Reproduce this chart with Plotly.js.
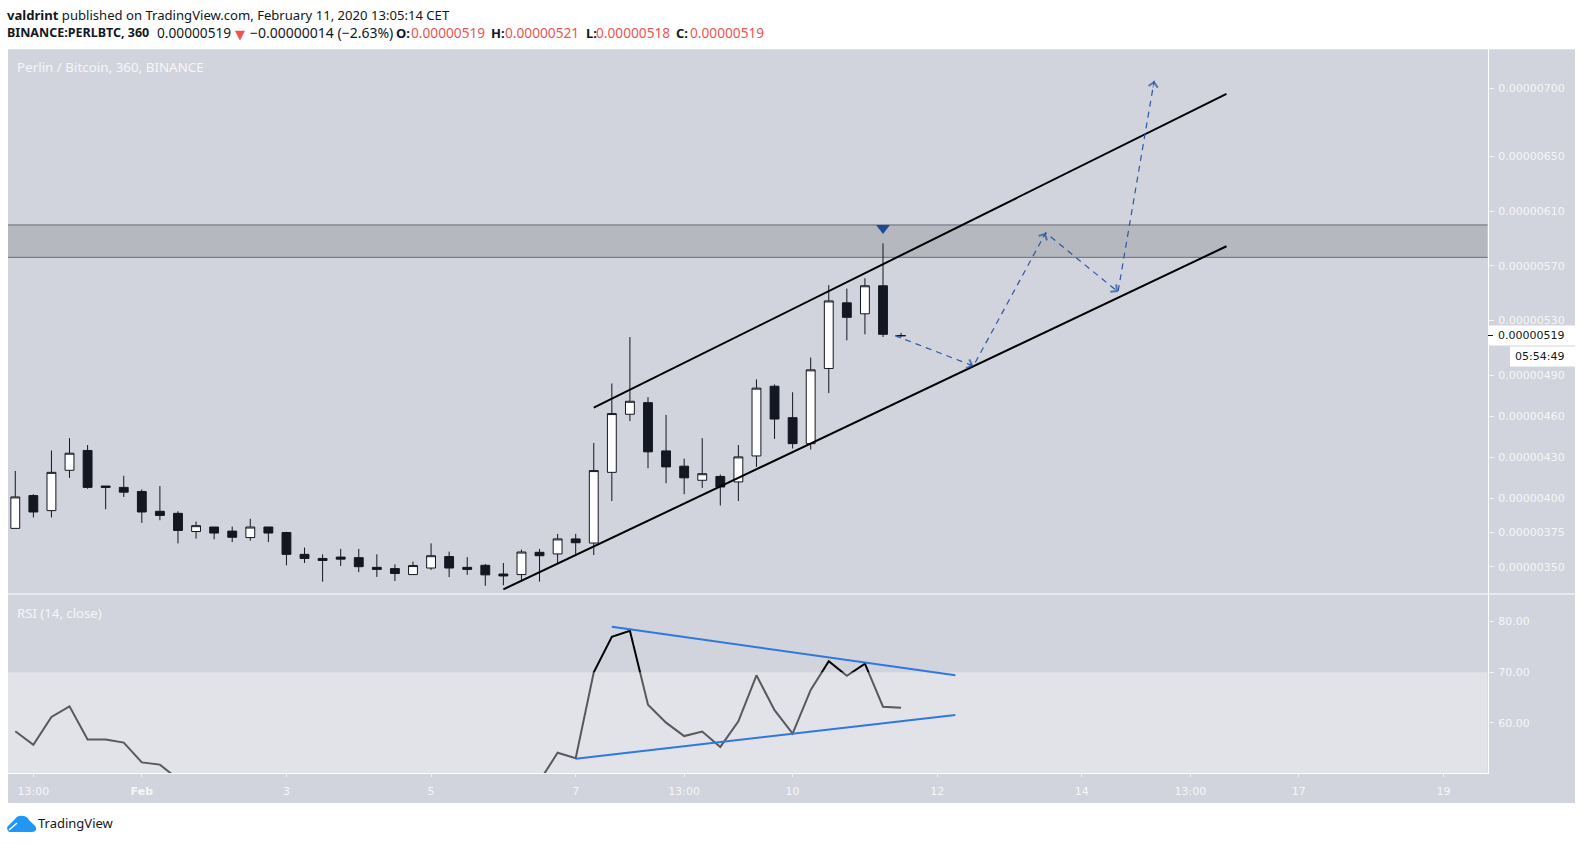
<!DOCTYPE html>
<html><head><meta charset="utf-8">
<script src="https://cdn.plot.ly/plotly-3.0.1.min.js"></script>
<style>html,body{margin:0;padding:0;background:#fff;overflow:hidden}</style>
</head><body><div id="chart" style="width:1583px;height:844px"></div>
<script>
// Values in satoshi (1e-8 BTC)
const times=["2020-01-30 07:00","2020-01-30 13:00","2020-01-30 19:00","2020-01-31 01:00","2020-01-31 07:00","2020-01-31 13:00","2020-01-31 19:00",
"2020-02-01 01:00","2020-02-01 07:00","2020-02-01 13:00","2020-02-01 19:00","2020-02-02 01:00","2020-02-02 07:00","2020-02-02 13:00","2020-02-02 19:00",
"2020-02-03 01:00","2020-02-03 07:00","2020-02-03 13:00","2020-02-03 19:00","2020-02-04 01:00","2020-02-04 07:00","2020-02-04 13:00","2020-02-04 19:00",
"2020-02-05 01:00","2020-02-05 07:00","2020-02-05 13:00","2020-02-05 19:00","2020-02-06 01:00","2020-02-06 07:00","2020-02-06 13:00","2020-02-06 19:00",
"2020-02-07 01:00","2020-02-07 07:00","2020-02-07 13:00","2020-02-07 19:00","2020-02-08 01:00","2020-02-08 07:00","2020-02-08 13:00","2020-02-08 19:00",
"2020-02-09 01:00","2020-02-09 07:00","2020-02-09 13:00","2020-02-09 19:00","2020-02-10 01:00","2020-02-10 07:00","2020-02-10 13:00","2020-02-10 19:00",
"2020-02-11 01:00","2020-02-11 07:00","2020-02-11 13:00"];
const open=[378,402,391,420.5,435,409,408,405,390.5,389,375.7,379,376,371.3,379,375,359,356,357,356.6,349.5,348.6,344.2,349,357.4,349.5,351,344.6,344.2,360.5,359.3,370.3,367.3,419,461.5,470,434.7,423.5,413.2,416,412,431,482,459,440,495,543,535,555.5,519];
const high=[420,403,435,444,439,409,416.5,406.5,409,390.5,383,379,379.3,385,379,375.5,364,359,363,363,359,351.7,353.7,367,361,357,352,352.7,362.5,363,374,374,440.5,484,518,474,461,429,444,417.4,439,487,483.3,477.6,503,556,553.4,561,586.5,521];
const low=[378,386,386,415,407,392,401,382,384,367,370.5,370,368,369,368,351,352.7,339,350.5,346,342.5,339.5,344,347.6,342.4,344,336,336.4,339,339,352,358.3,358.5,398,456.5,422,411,403,407.6,394.7,398,423,443.5,436.4,435.7,477,515.6,520,518,518];
const close=[401,390,419,433,408,408,404.5,390,387.5,376.5,380,374.6,371.5,379,374.6,359,356,354.5,355.5,350,348,345,350.8,358,349,348,344,343.2,360.7,358,370.3,367.5,420.3,462,471,434,423,415,418,408.3,430.3,480.6,458,440,494,544.4,532.4,555.5,520,519];
const rsi=[58.35,55.65,61.17,63.28,56.7,56.7,56.1,52.2,51.76,48.9,47,46,45,46,44,37,36,35,35,33,32,31,34,38,34,34,31,31,41,48.5,54.1,53,70,77,78.2,63.6,60.05,57.4,58.3,55.25,60.3,69.4,62.5,57.9,66.5,72.2,69.3,71.7,63.2,63];

const priceTicks=[350,375,400,430,460,490,530,570,610,650,700];
const priceTickText=["0.00000350","0.00000375","0.00000400","0.00000430","0.00000460","0.00000490","0.00000530","0.00000570","0.00000610","0.00000650","0.00000700"];
const rsiTicks=[60,70,80];
const rsiTickText=["60.00","70.00","80.00"];
const dateTicks=["2020-01-30 13:00","2020-02-01 01:00","2020-02-03 01:00","2020-02-05 01:00","2020-02-07 01:00","2020-02-08 13:00","2020-02-10 01:00","2020-02-12 01:00","2020-02-14 01:00","2020-02-15 13:00","2020-02-17 01:00","2020-02-19 01:00"];
const dateTickText=["13:00","<b>Feb</b>","3","5","7","13:00","10","12","14","13:00","17","19"];

const zonePrice=[576.3,600];
const channelUpperT=["2020-02-07 07:00","2020-02-16 01:00"], channelUpperP=[466.3,695.9];
const channelLowerT=["2020-02-06 01:00","2020-02-16 01:00"], channelLowerP=[333.4,584.4];
const forecastT=["2020-02-11 11:00","2020-02-12 13:00","2020-02-13 13:00","2020-02-14 13:00","2020-02-15 01:00"];
const forecastP=[519,496.8,594.3,551,705.5];
const signalT=["2020-02-11 07:00"], signalP=[597.8];
const rsiUpperT=["2020-02-07 13:00","2020-02-12 07:00"], rsiUpperV=[79,69.4];
const rsiLowerT=["2020-02-07 01:00","2020-02-12 07:00"], rsiLowerV=[52.9,61.57];

const W=1583,H=844;
const L=8,R=1488,TOP=49.3,SEP=594,BOT=773,AXB=803,RIGHT=1575;
const px=v=>v/W, py=v=>1-v/H;
const INK="#131722", PALE="#f5f6f8", BG="#d1d4dc", RED="#ef5350", DASH="#2a58a4", BLUE="#3077e0";
const FONT='"Noto Sans", sans-serif';

function rect(x0,y0,x1,y1,fill,layer){return {type:"rect",xref:"paper",yref:"paper",x0:px(x0),x1:px(x1),y0:py(y1),y1:py(y0),fillcolor:fill,line:{width:0},layer:layer||"below"};}
function hline(x0,x1,y,col,layer){return {type:"line",xref:"paper",yref:"paper",x0:px(x0),x1:px(x1),y0:py(y),y1:py(y),line:{color:col,width:1},layer:layer||"above"};}
function cloud(pts){return pts.map(s=>typeof s==="string"?s:px(s[0])+","+py(s[1])).join(" ");}

const shapes=[
 rect(L,TOP,RIGHT,AXB,BG),
 {type:"rect",xref:"paper",yref:"y",x0:px(L),x1:px(R-0.5),y0:zonePrice[0],y1:zonePrice[1],fillcolor:"#b6b8bf",line:{width:0},layer:"below"},
 {type:"line",xref:"paper",yref:"y",x0:px(L),x1:px(R-0.5),y0:zonePrice[0],y1:zonePrice[0],line:{color:"#6a6d78",width:1},layer:"below"},
 {type:"line",xref:"paper",yref:"y",x0:px(L),x1:px(R-0.5),y0:zonePrice[1],y1:zonePrice[1],line:{color:"#6a6d78",width:1},layer:"below"},
 // RSI 30-70 band sits over the RSI line, which is why the line turns grey inside it
 {type:"rect",xref:"paper",yref:"y2",x0:px(L),x1:px(R-0.5),y0:50.1,y1:70,fillcolor:"rgba(255,255,255,0.35)",line:{width:0},layer:"above"},
 {type:"line",xref:"x",yref:"y2",x0:rsiUpperT[0],x1:rsiUpperT[1],y0:rsiUpperV[0],y1:rsiUpperV[1],line:{color:BLUE,width:2},layer:"above"},
 {type:"line",xref:"x",yref:"y2",x0:rsiLowerT[0],x1:rsiLowerT[1],y0:rsiLowerV[0],y1:rsiLowerV[1],line:{color:BLUE,width:2},layer:"above"},
 hline(L,RIGHT,SEP,"#ffffff"),
 rect(R+0.5,325.5,RIGHT,345.5,"#ffffff","above"),
 rect(1510,346.5,RIGHT,366.5,"#ffffff","above"),
 hline(R,R+5,335.5,INK),
 // TradingView logo
 {type:"path",xref:"paper",yref:"paper",layer:"above",fillcolor:"#2196f3",line:{width:0},
  path:cloud(["M",[9,832],"Q",[5,828],[9,825],"L",[15,819],"Q",[18,815],[23,816],"Q",[27,816],[29,820],"L",[33,824],"Q",[37,827],[36,830],"Q",[35,832],[32,832],"Z"])},
 {type:"path",xref:"paper",yref:"paper",layer:"above",line:{color:"#ffffff",width:1.5},
  path:cloud(["M",[9,830],"L",[17,823],[24,829],[33,823]])}
];

function ms(s){return Date.parse(s.replace(" ","T")+":00Z");}
function iso(t){return new Date(t).toISOString().slice(0,19).replace("T"," ");}
const arrowHeads=[];
for(let i=1;i<forecastT.length;i++){
  const t0=ms(forecastT[i-1]),t1=ms(forecastT[i]);
  arrowHeads.push({x:forecastT[i],y:forecastP[i],xref:"x",yref:"y",axref:"x",ayref:"y",
    ax:iso(t1-(t1-t0)*0.08),ay:forecastP[i]-(forecastP[i]-forecastP[i-1])*0.08,
    text:" ",showarrow:true,arrowhead:4,arrowsize:2,arrowwidth:0.9,arrowcolor:DASH,opacity:0.75});
}
function label(text,x,y,size,color,anchor,family){return {xref:"paper",yref:"paper",x:px(x-2),y:py(y),xanchor:anchor||"left",yanchor:"middle",text:text,showarrow:false,align:"left",font:{family:family||FONT,size:size,color:color}};}
const annotations=[
 label("<b>valdrint</b> published on TradingView.com, February 11, 2020 13:05:14 CET",7,14.7,13.1,INK),
 label("<b>BINANCE:PERLBTC, 360</b>",7,33,12.5,INK),
 label("0.00000519",156.5,33,13.7,INK),
 label("▼",235,34,13,RED,"left","DejaVu Sans"),
 label("−0.00000014 (−2.63%)",250,33,14,INK),
 label("<b>O:</b>",396,33,13,INK),
 label("0.00000519",411,33,13.7,RED),
 label("<b>H:</b>",491,33,13,INK),
 label("0.00000521",505,33,13.7,RED),
 label("<b>L:</b>",586,33,13,INK),
 label("0.00000518",596,33,13.7,RED),
 label("<b>C:</b>",676,33,13,INK),
 label("0.00000519",690,33,13.7,RED),
 label("Perlin / Bitcoin, 360, BINANCE",17,67,13.4,PALE),
 label("RSI (14, close)",17,613,13.2,PALE),
 label("TradingView",38,823,13,INK),
 label("0.00000519",1498,335.5,11,INK,"left","DejaVu Sans"),
 label("05:54:49",1515,356.5,11,INK,"left","DejaVu Sans")
].concat(arrowHeads);

const traces=[
 {type:"candlestick",x:times,open:open,high:high,low:low,close:close,xaxis:"x",yaxis:"y",hoverinfo:"skip",
  increasing:{line:{color:INK,width:1},fillcolor:"#ffffff"},decreasing:{line:{color:INK,width:1},fillcolor:INK},showlegend:false},
 {type:"scatter",mode:"lines",x:channelUpperT,y:channelUpperP,line:{color:"#000000",width:2},xaxis:"x",yaxis:"y",hoverinfo:"skip",showlegend:false},
 {type:"scatter",mode:"lines",x:channelLowerT,y:channelLowerP,line:{color:"#000000",width:2},xaxis:"x",yaxis:"y",hoverinfo:"skip",showlegend:false},
 {type:"scatter",mode:"lines",x:forecastT,y:forecastP,line:{color:DASH,width:1.2,dash:"6px,5px"},xaxis:"x",yaxis:"y",hoverinfo:"skip",showlegend:false},
 {type:"scatter",mode:"markers",x:signalT,y:signalP,marker:{symbol:"triangle-down",size:12,color:"#1c4a94",line:{width:0}},xaxis:"x",yaxis:"y",hoverinfo:"skip",showlegend:false},
 {type:"scatter",mode:"lines",x:times,y:rsi,line:{color:"#000000",width:2},xaxis:"x",yaxis:"y2",hoverinfo:"skip",showlegend:false}
];

const tickFont={family:"DejaVu Sans",size:11,color:PALE};
const layout={
 width:W,height:H,margin:{l:0,r:0,t:0,b:0},paper_bgcolor:"#ffffff",plot_bgcolor:"rgba(0,0,0,0)",showlegend:false,
 xaxis:{type:"date",domain:[px(L),px(R)],range:["2020-01-30 04:35","2020-02-19 15:48"],anchor:"y2",rangeslider:{visible:false},
  tickmode:"array",tickvals:dateTicks,ticktext:dateTickText,ticks:"outside",ticklen:3,tickcolor:"#f2f3f6",tickfont:tickFont,ticklabelstandoff:5,
  showgrid:false,zeroline:false,showline:true,linecolor:"#ffffff",linewidth:1},
 yaxis:{domain:[py(SEP),py(TOP)],range:[330,728.5],side:"right",anchor:"x",tickmode:"array",tickvals:priceTicks,ticktext:priceTickText,
  ticks:"outside",ticklen:5,tickcolor:"#f2f3f6",tickfont:tickFont,ticklabelstandoff:2,showgrid:false,zeroline:false,showline:true,linecolor:"#ffffff",linewidth:1},
 yaxis2:{domain:[py(BOT),py(SEP)],range:[50.1,85.46],side:"right",anchor:"x",tickmode:"array",tickvals:rsiTicks,ticktext:rsiTickText,
  ticks:"outside",ticklen:5,tickcolor:"#f2f3f6",tickfont:tickFont,ticklabelstandoff:2,showgrid:false,zeroline:false,showline:true,linecolor:"#ffffff",linewidth:1},
 shapes:shapes,annotations:annotations,hovermode:false,dragmode:false
};
Plotly.newPlot("chart",traces,layout,{displayModeBar:false,staticPlot:true,responsive:false});
</script></body></html>
